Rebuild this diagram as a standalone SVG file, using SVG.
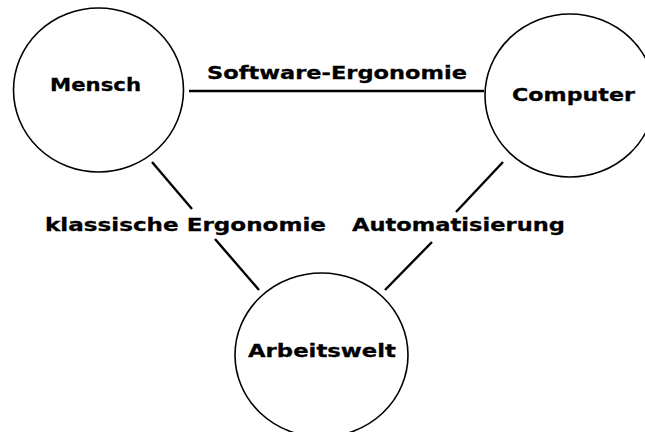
<svg xmlns="http://www.w3.org/2000/svg" width="645" height="432" viewBox="0 0 645 432">
  <style>
    .node { fill: #ffffff; stroke: #000000; stroke-width: 1.6; }
    .edge { stroke: #000000; stroke-width: 2.4; fill: none; }
    .label { font-family: "DejaVu Sans", Verdana, sans-serif; font-weight: bold; font-size: 18.5px; fill: #000000; stroke: #000000; stroke-width: 0.3; }
  </style>
  <rect x="0" y="0" width="645" height="432" fill="#ffffff"/>

  <g id="connectors">
    <line class="edge" x1="189" y1="91" x2="484" y2="91"/>
    <line class="edge" x1="152" y1="162" x2="192" y2="209"/>
    <line class="edge" x1="215" y1="239" x2="259" y2="290"/>
    <line class="edge" x1="503" y1="162" x2="456" y2="212"/>
    <line class="edge" x1="432" y1="242" x2="385" y2="290"/>
  </g>

  <g id="mensch">
    <ellipse class="node" cx="98.5" cy="90" rx="85" ry="82"/>
    <text class="label" x="50" y="91" textLength="91" lengthAdjust="spacingAndGlyphs">Mensch</text>
  </g>

  <g id="computer">
    <ellipse class="node" cx="570" cy="95.5" rx="85" ry="81.5"/>
    <text class="label" x="512" y="101" textLength="123" lengthAdjust="spacingAndGlyphs">Computer</text>
  </g>

  <g id="arbeitswelt">
    <ellipse class="node" cx="321.5" cy="355" rx="86.5" ry="82"/>
    <text class="label" x="248" y="357" textLength="148" lengthAdjust="spacingAndGlyphs">Arbeitswelt</text>
  </g>

  <g id="edge-labels">
    <text class="label" x="207" y="79" textLength="260" lengthAdjust="spacingAndGlyphs">Software-Ergonomie</text>
    <text class="label" x="45" y="231" textLength="281" lengthAdjust="spacingAndGlyphs">klassische Ergonomie</text>
    <text class="label" x="352" y="231" textLength="213" lengthAdjust="spacingAndGlyphs">Automatisierung</text>
  </g>
</svg>
